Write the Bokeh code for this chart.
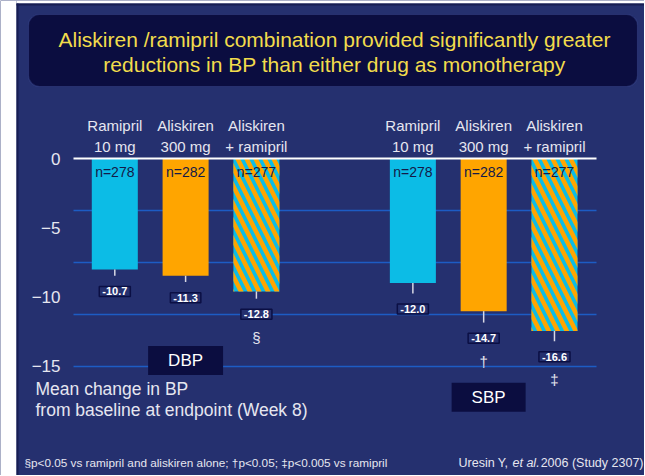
from bokeh.plotting import figure
from bokeh.models import (Range1d, LinearAxis, FixedTicker, Label, BoxAnnotation,
                          ColumnDataSource)
from bokeh.core.properties import value
from bokeh.embed import file_html
from bokeh.resources import INLINE

# ---------------- data ----------------
treatments = ["Ramipril\n10 mg", "Aliskiren\n300 mg", "Aliskiren\n+ ramipril"]
n_patients = [278, 282, 277]
groups = ["DBP", "SBP"]
dbp_change = [-10.7, -11.3, -12.8]
sbp_change = [-12.0, -14.7, -16.6]
dbp_se = [0.6, 0.6, 0.7]
sbp_se = [1.0, 1.1, 1.0]
dbp_sig = ["", "", "§"]
sbp_sig = ["", "†", "‡"]
y_ticks = [0, -5, -10, -15]
y_tick_labels = ["0", "−5", "−10", "−15"]
grid_values = [-5, -10, -15, -20]
title_text = ("Aliskiren /ramipril combination provided significantly greater\n"
              "reductions in BP than either drug as monotherapy")
axis_note = "Mean change in BP\nfrom baseline at endpoint (Week 8)"
footnote = "§p<0.05 vs ramipril and aliskiren alone; †p<0.05; ‡p<0.005 vs ramipril"
ref_a, ref_b, ref_c = "Uresin Y,", "et al.", "2006 (Study 2307)"

# ---------------- style ----------------
FONT = "Liberation Sans"
BG = "#25306f"
CYAN = "#0cbce6"
ORANGE = "#ffa500"
GRID = "#1d5cc4"
TXT = "#e6e6f0"
DARK = "#0b0d40"
EDGE = "#171d52"

GROUP_GAP = 4.21
x_dbp = [i for i in range(len(treatments))]
x_sbp = [i + GROUP_GAP for i in range(len(treatments))]

xs = x_dbp + x_sbp
changes = dbp_change + sbp_change
ses = dbp_se + sbp_se
sigs = dbp_sig + sbp_sig
ns = ["n=%d" % n for n in n_patients] * 2
colors = [CYAN, ORANGE, CYAN] * 2
hatched = [False, False, True] * 2

plain = ColumnDataSource(dict(
    x=[x for x, h in zip(xs, hatched) if not h],
    v=[c for c, h in zip(changes, hatched) if not h],
    color=[c for c, h in zip(colors, hatched) if not h]))
hatch = ColumnDataSource(dict(
    x=[x for x, h in zip(xs, hatched) if h],
    v=[c for c, h in zip(changes, hatched) if h]))
info = ColumnDataSource(dict(
    x=xs, v=changes,
    lo=[c - s for c, s in zip(changes, ses)],
    lab=["%.1f" % c for c in changes],
    lab_y=[c - s - 1.5 for c, s in zip(changes, ses)],
    sig=sigs,
    sig_y=[c - s - 3.7 for c, s in zip(changes, ses)],
    n=ns))

# ---------------- figure: frame covers whole figure ----------------
ORG = 1                          # page position of the figure's top-left corner
PX_X, PX_Y = 70.8, 10.385        # px per data unit
X0_PAGE, Y0_PAGE = 115.3, 159    # page position of x=0 / y=0
W, H = 644, 475
x_start = (ORG - X0_PAGE) / PX_X
x_end = (ORG + W - X0_PAGE) / PX_X
y_end = (Y0_PAGE - ORG) / PX_Y
y_start = -(ORG + H - Y0_PAGE) / PX_Y
X_LO, X_HI = (74 - X0_PAGE) / PX_X, (597 - X0_PAGE) / PX_X   # chart area

p = figure(width=W, height=H, output_backend="svg", toolbar_location=None,
           x_range=Range1d(x_start, x_end), y_range=Range1d(y_start, y_end),
           x_axis_location="above", y_axis_location=None,
           min_border=0, min_border_left=0, min_border_right=0,
           min_border_top=0, min_border_bottom=0)
p.background_fill_color = BG
p.border_fill_color = BG
p.outline_line_color = None

# label axis (the slide's tick labels are spread over the 0..-20 span)
p.extra_y_ranges = {"lbl": Range1d(y_start * 0.75, y_end * 0.75)}
yax = LinearAxis(y_range_name="lbl", ticker=FixedTicker(ticks=y_ticks),
                 major_label_overrides={t: l for t, l in zip(y_ticks, y_tick_labels)},
                 fixed_location=X_LO)
yax.axis_line_color = None
yax.major_tick_line_color = None
yax.minor_tick_line_color = None
yax.major_label_text_font = FONT
yax.major_label_text_font_size = "17px"
yax.major_label_text_color = TXT
yax.major_label_standoff = 7
p.add_layout(yax, "left")

xa = p.xaxis[0]
xa.fixed_location = 0
xa.bounds = (X_LO, X_HI)
xa.ticker = FixedTicker(ticks=xs)
xa.major_label_overrides = {x: t for x, t in zip(xs, treatments * 2)}
xa.axis_line_color = "white"
xa.axis_line_width = 2
xa.major_tick_line_color = None
xa.minor_tick_line_color = None
xa.major_label_text_font = FONT
xa.major_label_text_font_size = "15px"
xa.major_label_text_color = TXT
xa.major_label_standoff = -2

p.xgrid.visible = False
p.ygrid.ticker = FixedTicker(ticks=grid_values)
p.ygrid.cross_bounds = (X_LO, X_HI)
p.ygrid.grid_line_color = GRID
p.ygrid.grid_line_width = 1.5

# bars
p.vbar(x="x", top=0, bottom="v", width=0.65, source=plain,
       fill_color="color", line_color=None)
p.vbar(x="x", top=0, bottom="v", width=0.65, source=hatch,
       fill_color=CYAN, line_color=None,
       hatch_pattern="\\", hatch_color=ORANGE, hatch_scale=18, hatch_weight=4.5)

# whiskers
p.segment(x0="x", x1="x", y0="v", y1="lo", source=info, line_color="#d8d8e4", line_width=1.5)

# n= labels
p.text(x="x", y=-1.3, text="n", source=info, text_align="center", text_baseline="middle",
       text_font=value(FONT), text_font_size="14px", text_color="#141a48")

# value labels in boxes
p.text(x="x", y="lab_y", text="lab", source=info, text_align="center",
       text_baseline="middle", text_font=value(FONT), text_font_size="11px",
       text_font_style="bold", text_color="white",
       background_fill_color=BG, border_line_color="#0b0f44", border_line_width=1.5,
       padding=dict(left=3, right=3, top=1, bottom=1))

# significance marks
p.text(x="x", y="sig_y", text="sig", source=info, text_align="center",
       text_baseline="middle", text_font=value(FONT), text_font_size="15px",
       text_color=TXT)

# group labels
grp = ColumnDataSource(dict(x=[x_dbp[1], x_sbp[1] + 0.07], y=[-19.46, -23.0], t=groups))
p.text(x="x", y="y", text="t", source=grp, text_align="center", text_baseline="middle",
       text_font=value(FONT), text_font_size="17px", text_color="white",
       background_fill_color=DARK, border_line_color=None,
       padding=dict(left=20, right=20, top=5, bottom=5))


# ---------------- screen-positioned annotations ----------------
def sx(px):
    return px - ORG


def sy(py):
    return ORG + H - py


def box(l, r, t, b, **kw):
    p.add_layout(BoxAnnotation(left=sx(l), right=sx(r), top=sy(t), bottom=sy(b),
                               left_units="screen", right_units="screen",
                               top_units="screen", bottom_units="screen",
                               fill_alpha=1, **kw))


# white page strip around the slide + slide border
box(1, 17, 1, 476, fill_color="white", line_color=None)
box(17, 645, 1, 4, fill_color="white", line_color=None)
box(17, 19, 4, 476, fill_color=EDGE, line_color=None)
box(17, 645, 4, 6, fill_color=EDGE, line_color=None)

# title box
box(29, 638, 15, 87, fill_color=DARK, line_color="#4d5ca8", line_width=1.2, border_radius=11)
t1, t2 = title_text.split("\n")
for txt, py in [(t1, 40), (t2, 65)]:
    p.add_layout(Label(x=sx(335), y=sy(py), x_units="screen", y_units="screen", text=txt,
                       text_align="center", text_baseline="middle", text_font=FONT,
                       text_font_size="21px", text_color="#f2dc4c"))

n1, n2 = axis_note.split("\n")
for txt, py in [(n1, 389), (n2, 410)]:
    p.add_layout(Label(x=sx(36), y=sy(py), x_units="screen", y_units="screen", text=txt,
                       text_align="left", text_baseline="middle", text_font=FONT,
                       text_font_size="17.5px", text_color=TXT))

p.add_layout(Label(x=sx(25), y=sy(463), x_units="screen", y_units="screen", text=footnote,
                   text_align="left", text_baseline="middle", text_font=FONT,
                   text_font_size="11.75px", text_color=TXT))
for txt, px, style, align in [(ref_a, 459, "normal", "left"), (ref_b, 513, "italic", "left"),
                              (ref_c, 644, "normal", "right")]:
    p.add_layout(Label(x=sx(px), y=sy(463), x_units="screen", y_units="screen", text=txt,
                       text_align=align, text_baseline="middle", text_font=FONT,
                       text_font_style=style, text_font_size="12.5px", text_color=TXT))

open("out.html", "w").write(file_html(p, INLINE))
